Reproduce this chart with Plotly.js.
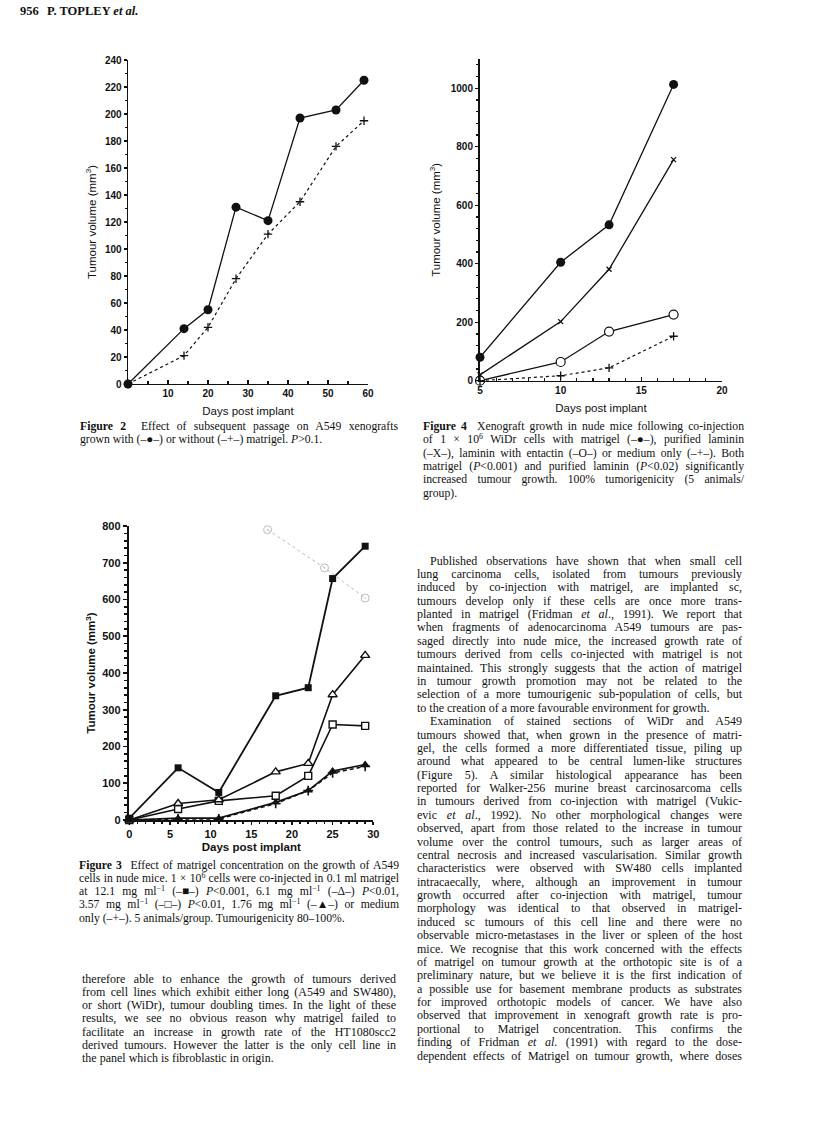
<!DOCTYPE html>
<html><head><meta charset="utf-8">
<script src="https://cdn.plot.ly/plotly-3.0.1.min.js"></script>
<style>
body{margin:0;background:#fff;}
#page{position:relative;width:816px;height:1137px;overflow:hidden;background:#fff;}
#plot{position:absolute;left:0;top:0;width:816px;height:1137px;}
.ln{position:absolute;white-space:pre;font-family:"Liberation Serif","Times New Roman",serif;color:#111;line-height:1;}
.ln sup{font-size:0.68em;vertical-align:0.45em;line-height:0;}
</style></head>
<body><div id="page"><div id="plot"></div><div id="text"></div></div>
<script>
// ---------------- data ----------------
// Figure 2
const fig2Days = [0, 14, 20, 27, 35, 43, 52, 59];
const fig2WithMatrigel = [0, 41, 55, 131, 121, 197, 203, 225];
const fig2WithoutMatrigel = [0, 21, 42, 78, 111, 135, 176, 195];
const fig2XTicks = [10, 20, 30, 40, 50, 60];
const fig2YTicks = [0, 20, 40, 60, 80, 100, 120, 140, 160, 180, 200, 220, 240];

// Figure 4
const fig4Days = [5, 10, 13, 17];
const fig4Matrigel = [80, 405, 533, 1013];
const fig4Laminin = [20, 202, 381, 756];
const fig4LamininEntactin = [0, 64, 168, 226];
const fig4Medium = [0, 17, 44, 152];
const fig4XTicks = [5, 10, 15, 20];
const fig4YTicks = [0, 200, 400, 600, 800, 1000];

// Figure 3
const fig3Days = [0, 6, 11, 18, 22, 25, 29];
const fig3Conc12_1 = [5, 142, 75, 338, 360, 657, 745];
const fig3Conc6_1 = [0, 45, 55, 131, 154, 341, 448];
const fig3Conc3_57 = [0, 30, 52, 66, 120, 260, 256];
const fig3Conc1_76 = [0, 5, 5, 48, 80, 133, 151];
const fig3Medium = [0, 3, 3, 45, 80, 128, 146];
const fig3BleedDays = [17, 24, 29];
const fig3BleedVals = [790, 686, 604];
const fig3XTicks = [0, 5, 10, 15, 20, 25, 30];
const fig3YTicks = [0, 100, 200, 300, 400, 500, 600, 700, 800];

// ---------------- chart ----------------
const blk = '#111';
const sans = '"Liberation Sans", Arial, Helvetica, sans-serif';
const W = 816, H = 1137;
const fx = p => p / W, fy = p => 1 - p / H;
function ax(o){return Object.assign({showgrid:false,zeroline:false,showline:true,linecolor:blk,tickcolor:blk,fixedrange:true,automargin:false,tickmode:'array'},o);}
const tf2 = {family:sans,size:10,weight:'bold',color:blk};
const tf3 = {family:sans,size:11,weight:'bold',color:blk};

const traces = [
  // Figure 2
  {x:fig2Days,y:fig2WithMatrigel,xaxis:'x',yaxis:'y',mode:'lines+markers',line:{color:blk,width:1.3},marker:{symbol:'circle',size:9,color:blk},cliponaxis:false},
  {x:fig2Days,y:fig2WithoutMatrigel,xaxis:'x',yaxis:'y',mode:'lines+markers',line:{color:blk,width:1.2,dash:'3px,3px'},marker:{symbol:'cross-thin-open',size:6,line:{color:blk,width:1.3}},cliponaxis:false},
  // Figure 4
  {x:fig4Days,y:fig4Matrigel,xaxis:'x2',yaxis:'y2',mode:'lines+markers',line:{color:blk,width:1.3},marker:{symbol:'circle',size:9,color:blk},cliponaxis:false},
  {x:fig4Days,y:fig4Laminin,xaxis:'x2',yaxis:'y2',mode:'lines+markers',line:{color:blk,width:1.3},marker:{symbol:'x-thin-open',size:5,line:{color:blk,width:1.3}},cliponaxis:false},
  {x:fig4Days,y:fig4LamininEntactin,xaxis:'x2',yaxis:'y2',mode:'lines+markers',line:{color:blk,width:1.3},marker:{symbol:'circle',size:9,color:'#fff',line:{color:blk,width:1.2}},cliponaxis:false},
  {x:fig4Days,y:fig4Medium,xaxis:'x2',yaxis:'y2',mode:'lines+markers',line:{color:blk,width:1.2,dash:'3px,3px'},marker:{symbol:'cross-thin-open',size:6,line:{color:blk,width:1.3}},cliponaxis:false},
  // Figure 3
  {x:fig3BleedDays,y:fig3BleedVals,xaxis:'x3',yaxis:'y3',mode:'lines+markers',line:{color:'#bbb',width:1,dash:'3px,3px'},marker:{symbol:'circle-open-dot',size:8,line:{color:'#aaa',width:1}},cliponaxis:false},
  {x:fig3Days,y:fig3Medium,xaxis:'x3',yaxis:'y3',mode:'lines+markers',line:{color:blk,width:1.6,dash:'4px,3px'},marker:{symbol:'cross-thin-open',size:7,line:{color:blk,width:1.6}},cliponaxis:false},
  {x:fig3Days,y:fig3Conc1_76,xaxis:'x3',yaxis:'y3',mode:'lines+markers',line:{color:blk,width:1.7},marker:{symbol:'triangle-up',size:8,color:blk},cliponaxis:false},
  {x:fig3Days,y:fig3Conc3_57,xaxis:'x3',yaxis:'y3',mode:'lines+markers',line:{color:blk,width:1.6},marker:{symbol:'square',size:7,color:'#fff',line:{color:blk,width:1.4}},cliponaxis:false},
  {x:fig3Days,y:fig3Conc6_1,xaxis:'x3',yaxis:'y3',mode:'lines+markers',line:{color:blk,width:1.6},marker:{symbol:'triangle-up',size:8,color:'#fff',line:{color:blk,width:1.4}},cliponaxis:false},
  {x:fig3Days,y:fig3Conc12_1,xaxis:'x3',yaxis:'y3',mode:'lines+markers',line:{color:blk,width:1.8},marker:{symbol:'square',size:7,color:blk},cliponaxis:false}
];

const layout = {
  width:W,height:H,margin:{l:0,r:0,t:0,b:0},
  paper_bgcolor:'rgba(0,0,0,0)',plot_bgcolor:'rgba(0,0,0,0)',showlegend:false,
  // Figure 2
  xaxis: ax({domain:[fx(128),fx(368)],anchor:'y',range:[0,60],tickvals:fig2XTicks,ticks:'inside',ticklen:4,linewidth:1.4,tickwidth:1.2,
    minor:{tickmode:'linear',tick0:0,dtick:5,ticks:'inside',ticklen:3,tickcolor:blk},tickfont:tf2,
    title:{text:'Days post implant',font:{family:sans,size:11.5,color:blk},standoff:8}}),
  yaxis: ax({domain:[fy(384),fy(60)],anchor:'x',range:[0,240],tickvals:fig2YTicks,ticks:'outside',ticklen:3,linewidth:1.4,tickwidth:1.2,
    minor:{tickmode:'linear',tick0:0,dtick:10,ticks:'outside',ticklen:2,tickcolor:blk},tickfont:tf2,
    title:{text:'Tumour volume (mm<sup>3</sup>)',font:{family:sans,size:11.5,color:blk},standoff:6}}),
  // Figure 4
  xaxis2: ax({domain:[fx(480),fx(722)],anchor:'y2',range:[5,20],tickvals:fig4XTicks,ticks:'inside',ticklen:4,linewidth:1.6,tickwidth:1.2,
    minor:{tickmode:'linear',tick0:5,dtick:1,ticks:'inside',ticklen:3,tickcolor:blk},tickfont:tf2,
    title:{text:'Days post implant',font:{family:sans,size:11.5,color:blk},standoff:8}}),
  yaxis2: ax({domain:[fy(380.7),fy(59)],anchor:'x2',range:[0,1100],tickvals:fig4YTicks,ticks:'outside',ticklen:3,linewidth:2,tickwidth:1.2,
    minor:{tickmode:'linear',tick0:0,dtick:40,ticks:'outside',ticklen:2,tickcolor:blk},tickfont:tf2,
    title:{text:'Tumour volume (mm<sup>3</sup>)',font:{family:sans,size:11.5,color:blk},standoff:8}}),
  // Figure 3
  xaxis3: ax({domain:[fx(129.3),fx(373.3)],anchor:'y3',range:[0,30],tickvals:fig3XTicks,ticks:'outside',ticklen:3,linewidth:2.2,tickwidth:1.6,
    minor:{tickmode:'linear',tick0:0,dtick:1,ticks:'outside',ticklen:2,tickcolor:blk},tickfont:tf3,
    title:{text:'Days post implant',font:{family:sans,size:11.5,weight:'bold',color:blk},standoff:4}}),
  yaxis3: ax({domain:[fy(820),fy(526)],anchor:'x3',range:[0,800],tickvals:fig3YTicks,ticks:'outside',ticklen:4,linewidth:2.6,tickwidth:1.6,
    minor:{tickmode:'linear',tick0:0,dtick:20,ticks:'outside',ticklen:3,tickcolor:blk},tickfont:tf3,
    title:{text:'Tumour volume (mm<sup>3</sup>)',font:{family:sans,size:11.5,weight:'bold',color:blk},standoff:4}})
};

Plotly.newPlot('plot', traces, layout, {staticPlot:true,displayModeBar:false});

// ---------------- text ----------------
const headerLines = [
  {t:'<b>956</b>', x:20, y:13, fs:12.5},
  {t:'<b>P. TOPLEY <i>et al.</i></b>', x:47, y:13, fs:12.5}
];
const fig2Caption = [
  '<b>Figure 2</b>  Effect of subsequent passage on A549 xenografts',
  'grown with (–●–) or without (–+–) matrigel. <i>P</i>&gt;0.1.'
];
const fig4Caption = [
  '<b>Figure 4</b>  Xenograft growth in nude mice following co-injection',
  'of 1 × 10<sup>6</sup> WiDr cells with matrigel (–●–), purified laminin',
  '(–X–), laminin with entactin (–O–) or medium only (–+–). Both',
  'matrigel (<i>P</i>&lt;0.001) and purified laminin (<i>P</i>&lt;0.02) significantly',
  'increased tumour growth. 100% tumorigenicity (5 animals/',
  'group).'
];
const fig3Caption = [
  '<b>Figure 3</b>  Effect of matrigel concentration on the growth of A549',
  'cells in nude mice. 1 × 10<sup>6</sup> cells were co-injected in 0.1 ml matrigel',
  'at 12.1 mg ml<sup>−1</sup> (–■–) <i>P</i>&lt;0.001, 6.1 mg ml<sup>−1</sup> (–Δ–) <i>P</i>&lt;0.01,',
  '3.57 mg ml<sup>−1</sup> (–□–) <i>P</i>&lt;0.01, 1.76 mg ml<sup>−1</sup> (–▲–) or medium',
  'only (–+–). 5 animals/group. Tumourigenicity 80–100%.'
];
const leftBody = [
  'therefore able to enhance the growth of tumours derived',
  'from cell lines which exhibit either long (A549 and SW480),',
  'or short (WiDr), tumour doubling times. In the light of these',
  'results, we see no obvious reason why matrigel failed to',
  'facilitate an increase in growth rate of the HT1080scc2',
  'derived tumours. However the latter is the only cell line in',
  'the panel which is fibroblastic in origin.'
];
const rightBody = [
  'Published observations have shown that when small cell',
  'lung carcinoma cells, isolated from tumours previously',
  'induced by co-injection with matrigel, are implanted sc,',
  'tumours develop only if these cells are once more trans-',
  'planted in matrigel (Fridman <i>et al</i>., 1991). We report that',
  'when fragments of adenocarcinoma A549 tumours are pas-',
  'saged directly into nude mice, the increased growth rate of',
  'tumours derived from cells co-injected with matrigel is not',
  'maintained. This strongly suggests that the action of matrigel',
  'in tumour growth promotion may not be related to the',
  'selection of a more tumourigenic sub-population of cells, but',
  'to the creation of a more favourable environment for growth.',
  'Examination of stained sections of WiDr and A549',
  'tumours showed that, when grown in the presence of matri-',
  'gel, the cells formed a more differentiated tissue, piling up',
  'around what appeared to be central lumen-like structures',
  '(Figure 5). A similar histological appearance has been',
  'reported for Walker-256 murine breast carcinosarcoma cells',
  'in tumours derived from co-injection with matrigel (Vukic-',
  'evic <i>et al</i>., 1992). No other morphological changes were',
  'observed, apart from those related to the increase in tumour',
  'volume over the control tumours, such as larger areas of',
  'central necrosis and increased vascularisation. Similar growth',
  'characteristics were observed with SW480 cells implanted',
  'intracaecally, where, although an improvement in tumour',
  'growth occurred after co-injection with matrigel, tumour',
  'morphology was identical to that observed in matrigel-',
  'induced sc tumours of this cell line and there were no',
  'observable micro-metastases in the liver or spleen of the host',
  'mice. We recognise that this work concerned with the effects',
  'of matrigel on tumour growth at the orthotopic site is of a',
  'preliminary nature, but we believe it is the first indication of',
  'a possible use for basement membrane products as substrates',
  'for improved orthotopic models of cancer. We have also',
  'observed that improvement in xenograft growth rate is pro-',
  'portional to Matrigel concentration. This confirms the',
  'finding of Fridman <i>et al</i>. (1991) with regard to the dose-',
  'dependent effects of Matrigel on tumour growth, where doses'
];

const textBox = document.getElementById('text');
const items = [];
function place(html, x, y, w, fs, last){
  const d = document.createElement('div');
  d.className = 'ln';
  d.style.left = x + 'px';
  d.style.top = (y - fs * 0.62) + 'px';
  d.style.fontSize = fs + 'px';
  d.innerHTML = html;
  textBox.appendChild(d);
  items.push({d, w, last});
}
headerLines.forEach(h => place(h.t, h.x, h.y, 0, h.fs, true));
fig2Caption.forEach((t,i) => place(t, 80, 428 + i*13.4, 318, 11.7, i === fig2Caption.length-1));
fig4Caption.forEach((t,i) => place(t, 423, 428 + i*13.4, 321, 11.7, i === fig4Caption.length-1));
fig3Caption.forEach((t,i) => place(t, 79, 867 + i*13.2, 320, 11.7, i === fig3Caption.length-1));
leftBody.forEach((t,i) => place(t, 82, 980 + i*13.3, 314, 12, i === leftBody.length-1));
rightBody.forEach((t,i) => {
  const ind = (i === 0 || i === 12) ? 13 : 0;
  const last = (i === 11);
  place(t, 417 + ind, 562 + i*13.38, 325 - ind, 12, last);
});
function justify(){
  items.forEach(it => {
    if (it.last) return;
    const nat = it.d.getBoundingClientRect().width;
    const n = (it.d.textContent.match(/ /g) || []).length;
    if (n > 0) it.d.style.wordSpacing = ((it.w - nat) / n) + 'px';
  });
}
if (document.fonts && document.fonts.ready) document.fonts.ready.then(justify); else justify();
</script>
</body></html>
